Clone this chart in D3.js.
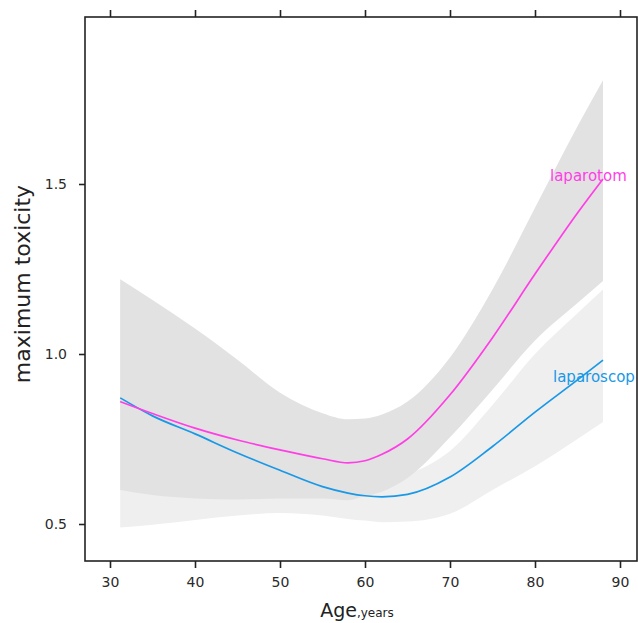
<!DOCTYPE html>
<html>
<head>
<meta charset="utf-8">
<script src="https://cdn.jsdelivr.net/npm/d3@7"></script>
<style>
  html, body { margin: 0; padding: 0; background: #ffffff; }
  svg { display: block; }
  text { font-family: "DejaVu Sans", Verdana, sans-serif; }
</style>
</head>
<body>
<svg id="chart" width="638" height="623"></svg>
<script>
// ---- data ----
const ages = [31.2, 35, 40, 45, 50, 55, 58, 60, 62, 65, 70, 75, 80, 85, 88];

const laparotomFit   = [0.860, 0.825, 0.782, 0.747, 0.718, 0.692, 0.680, 0.686, 0.705, 0.750, 0.880, 1.048, 1.235, 1.415, 1.515];
const laparotomUpper = [1.220, 1.159, 1.075, 0.983, 0.886, 0.826, 0.808, 0.810, 0.822, 0.860, 0.990, 1.190, 1.430, 1.670, 1.805];
const laparotomLower = [0.600, 0.585, 0.575, 0.572, 0.575, 0.575, 0.570, 0.582, 0.595, 0.635, 0.755, 0.895, 1.040, 1.150, 1.215];

const laparoscopFit   = [0.871, 0.818, 0.765, 0.709, 0.658, 0.610, 0.591, 0.583, 0.580, 0.587, 0.638, 0.728, 0.829, 0.924, 0.982];
const laparoscopUpper = [1.200, 1.120, 1.000, 0.880, 0.760, 0.670, 0.645, 0.638, 0.636, 0.648, 0.715, 0.850, 1.000, 1.120, 1.190];
const laparoscopLower = [0.490, 0.498, 0.512, 0.525, 0.532, 0.525, 0.515, 0.510, 0.505, 0.507, 0.530, 0.600, 0.670, 0.750, 0.800];

const xTicks = [30, 40, 50, 60, 70, 80, 90];
const yTicks = [0.5, 1.0, 1.5];
const seriesNames = ["laparotom", "laparoscop"];
const xTitle = "Age";
const xTitleSub = ",years";
const yTitle = "maximum toxicity";

// ---- layout ----
const svg = d3.select("#chart");
const frame = { left: 85, right: 637, top: 17, bottom: 561 };

const x = d3.scaleLinear().domain([30, 90]).range([110, 620]);
const y = d3.scaleLinear().domain([0.5, 1.5]).range([524, 184]);

const colPink = "#ff3ee6";
const colBlue = "#1898e6";

const rows = (fit, lo, hi) => ages.map((a, i) => ({ a, f: fit[i], lo: lo[i], hi: hi[i] }));
const pink = rows(laparotomFit, laparotomLower, laparotomUpper);
const blue = rows(laparoscopFit, laparoscopLower, laparoscopUpper);

const area = d3.area()
  .x(d => x(d.a)).y0(d => y(d.lo)).y1(d => y(d.hi))
  .curve(d3.curveMonotoneX);
const line = d3.line()
  .x(d => x(d.a)).y(d => y(d.f))
  .curve(d3.curveMonotoneX);

// ribbons
svg.append("path").datum(blue).attr("d", area).attr("fill", "#efefef");
svg.append("path").datum(pink).attr("d", area).attr("fill", "#e2e2e2");

// fits
svg.append("path").datum(blue).attr("d", line)
  .attr("fill", "none").attr("stroke", colBlue).attr("stroke-width", 1.7);
svg.append("path").datum(pink).attr("d", line)
  .attr("fill", "none").attr("stroke", colPink).attr("stroke-width", 1.7);

// direct labels
const lastP = pink[pink.length - 1];
const lastB = blue[blue.length - 1];
svg.append("text")
  .attr("x", x(lastP.a) - 53).attr("y", y(lastP.f) + 2)
  .attr("font-size", 15).attr("fill", colPink)
  .text(seriesNames[0]);
svg.append("text")
  .attr("x", x(lastB.a) - 50).attr("y", y(lastB.f) + 22)
  .attr("font-size", 15).attr("fill", colBlue)
  .text(seriesNames[1]);

// frame
svg.append("rect")
  .attr("x", frame.left).attr("y", frame.top)
  .attr("width", frame.right - frame.left).attr("height", frame.bottom - frame.top)
  .attr("fill", "none").attr("stroke", "#222").attr("stroke-width", 1.6);

// axes
const styleAxis = g => {
  g.select(".domain").remove();
  g.selectAll(".tick line").attr("stroke", "#222").attr("stroke-width", 1.6);
  g.selectAll(".tick text").attr("fill", "#2a2a2a").attr("font-size", 14)
    .attr("font-family", "DejaVu Sans, Verdana, sans-serif");
};

svg.append("g").attr("transform", `translate(0,${frame.bottom})`)
  .call(d3.axisBottom(x).tickValues(xTicks).tickSize(7).tickPadding(9).tickFormat(d3.format("d")))
  .call(styleAxis);

svg.append("g").attr("transform", `translate(0,${frame.top})`)
  .call(d3.axisTop(x).tickValues(xTicks).tickSize(7).tickFormat(""))
  .call(styleAxis);

svg.append("g").attr("transform", `translate(${frame.left},0)`)
  .call(d3.axisLeft(y).tickValues(yTicks).tickSize(6).tickPadding(12).tickFormat(d3.format(".1f")))
  .call(styleAxis);

// axis titles
const xt = svg.append("text")
  .attr("x", (frame.left + frame.right) / 2 - 4).attr("y", 617)
  .attr("text-anchor", "middle").attr("fill", "#222");
xt.append("tspan").attr("font-size", 19).text(xTitle);
xt.append("tspan").attr("font-size", 12).text(xTitleSub);

svg.append("text")
  .attr("transform", `translate(30,${(frame.top + frame.bottom) / 2 - 5}) rotate(-90)`)
  .attr("text-anchor", "middle").attr("font-size", 22).attr("fill", "#222")
  .text(yTitle);
</script>
</body>
</html>
